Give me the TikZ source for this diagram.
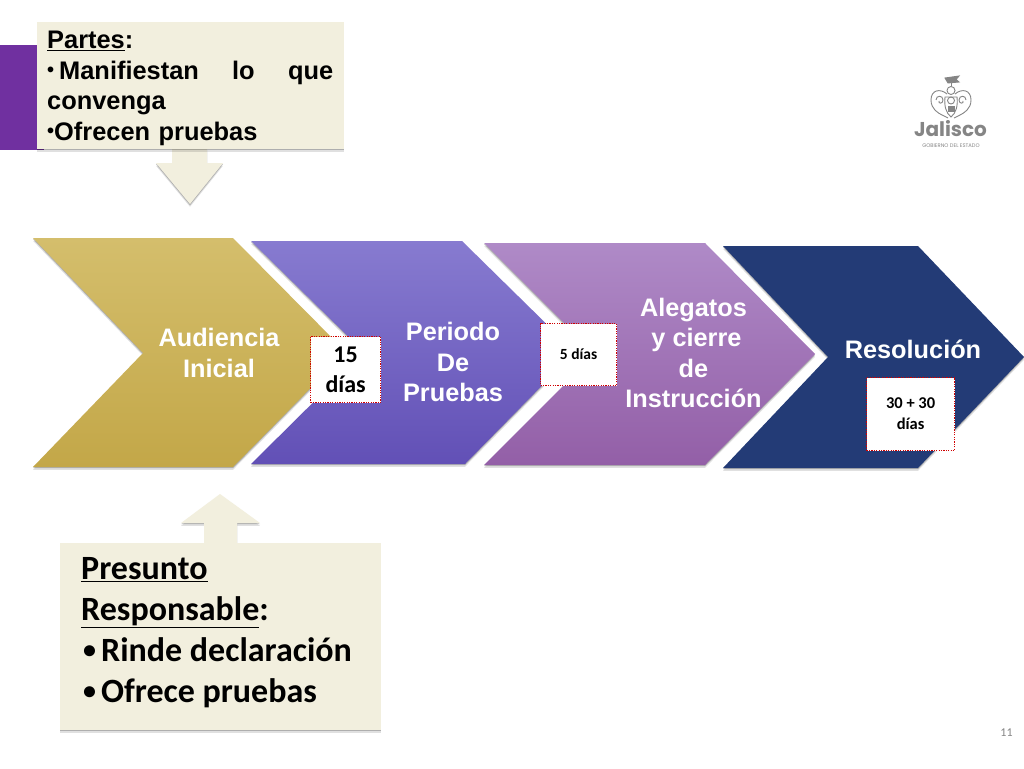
\documentclass[tikz,border=0pt]{standalone}
\usepackage{fontspec}
\setmainfont{Liberation Sans}
\newfontfamily\calfont{Carlito}
\newfontfamily\popfont{Poppins}
\definecolor{cream}{HTML}{F2EFDE}
\definecolor{barpurple}{HTML}{7030A0}
\definecolor{navy}{HTML}{233B76}
\definecolor{logogrey}{HTML}{858585}
\definecolor{dotred}{HTML}{D00000}
\definecolor{goldtop}{HTML}{D4BE6C}
\definecolor{goldbot}{HTML}{C3A748}
\definecolor{peritop}{HTML}{877BD0}
\definecolor{peribot}{HTML}{6250B6}
\definecolor{purptop}{HTML}{AF8AC7}
\definecolor{purpbot}{HTML}{935FA7}
\newcommand{\smallbul}[1]{\raisebox{.1em}{\fontsize{#1}{#1}\selectfont\textbullet}}
\tikzset{
  x=1pt,y=-1pt,
  softshadow/.style={fill=black,fill opacity=.22,shift={(0,1.2)}},
  softshadowb/.style={fill=black,fill opacity=.12,shift={(0,2.8)}},
  panel/.style={fill=cream},
  chevlabel/.style={text=white,font=\fontsize{25.3}{30.5}\selectfont\bfseries,align=center,inner sep=0pt},
  badge/.style={draw=dotred,dash pattern=on 1.2pt off 1.2pt,line width=1.2pt,fill=white,inner sep=0pt,anchor=north west,align=center,font=\calfont\bfseries,text=black},
  crest/.style={draw=logogrey,line width=.9pt,fill=none},
}
\def\chevA{(33,238)--(233,238)--(346,352)--(233,467)--(33,467)--(143,353)--cycle}
\def\chevB{(251,241)--(462,241)--(575,352)--(465,464)--(251,464)--(364,352)--cycle}
\def\chevC{(484,243)--(705,243)--(815,354)--(705,465)--(484,465)--(595,354)--cycle}
\def\chevD{(723,246)--(918,246)--(1024,357)--(918,468)--(723,468)--(828,357)--cycle}
\def\arrowDown{(172,149)--(207,149)--(207,163)--(223,163)--(190,204)--(156,163)--(172,163)--cycle}
\def\arrowUp{(204,543)--(204,523)--(181,523)--(220,494)--(260,523)--(237,523)--(237,543)--cycle}
\begin{document}
\begin{tikzpicture}
\useasboundingbox (0,0) rectangle (1024,768);
\fill[white] (0,0) rectangle (1024,768);
% side bar
\fill[barpurple] (0,45) rectangle (44,150);
% top panel and arrow
\path[softshadow] \arrowDown;
\path[softshadowb] \arrowDown;
\path[panel] \arrowDown;
\path[softshadow] (37,22) rectangle (344,149);
\path[softshadowb] (37,22) rectangle (344,149);
\path[panel] (37,22) rectangle (344,149);
\node[anchor=north west,inner sep=0pt,text width=286pt,align=left,font=\fontsize{25.4}{30.5}\selectfont\bfseries] (partes) at (47,27)
  {\strut\underline{Partes}:\\ \makebox[286pt][s]{\smallbul{20}\hspace{5pt}Manifiestan\hfil lo\hfil que}\\ convenga\\ \smallbul{20}Ofrecen pruebas};
% chevrons
\path[softshadow] \chevA;
\path[softshadowb] \chevA;
\path[top color=goldtop,bottom color=goldbot] \chevA;
\path[softshadow] \chevB;
\path[softshadowb] \chevB;
\path[top color=peritop,bottom color=peribot] \chevB;
\path[softshadow] \chevC;
\path[softshadowb] \chevC;
\path[top color=purptop,bottom color=purpbot] \chevC;
\path[softshadow] \chevD;
\path[softshadowb] \chevD;
\path[fill=navy] \chevD;
\node[chevlabel] (audiencia) at (219,353) {Audiencia\\Inicial};
\node[chevlabel] (periodo) at (453,362) {Periodo\\De\\Pruebas};
\node[chevlabel] (alegatos) at (693.5,353) {Alegatos\\\hspace{6pt}y cierre\\de\\Instrucción};
\node[chevlabel] (resolucion) at (913,349) {Resolución};
% badges
\node[badge,minimum width=70pt,minimum height=66pt,font=\calfont\bfseries\fontsize{24}{29.5}\selectfont] (b15) at (310,336) {15\\días};
\node[badge,minimum width=76pt,minimum height=62pt,font=\calfont\bfseries\fontsize{15.5}{20}\selectfont] (b5) at (540,323) {5 días};
\node[badge,minimum width=88pt,minimum height=73pt,font=\calfont\bfseries\fontsize{16.5}{21}\selectfont] (b30) at (866,377) {30 + 30\\días};
% bottom panel and arrow
\path[softshadow] \arrowUp;
\path[softshadowb] \arrowUp;
\path[panel] \arrowUp;
\path[softshadow] (60,543) rectangle (381,730);
\path[softshadowb] (60,543) rectangle (381,730);
\path[panel] (60,543) rectangle (381,730);
\node[anchor=north west,inner sep=0pt,align=left,font=\calfont\bfseries\fontsize{34}{41}\selectfont] (presunto) at (81,551)
  {\strut\underline{Presunto}\\\underline{Responsable}:\\\hspace{2pt}\smallbul{26}\hspace{5pt}Rinde declaración\\\hspace{2pt}\smallbul{26}\hspace{5pt}Ofrece pruebas};
% logo
\node[text=logogrey,inner sep=0pt,font=\popfont\bfseries\fontsize{20}{20}\selectfont] (jalisco) at (950.5,128.5) {Jalisco};
\node[text=logogrey,inner sep=0pt,font=\popfont\fontsize{5.2}{5.2}\selectfont] (gob) at (951,146) {GOBIERNO DEL ESTADO};
\draw[crest,fill=logogrey] (945,78)--(959,76)--(956,79.5)--(959,82)--(948,83)--cycle;
\draw[crest] (951,83)--(951,86);
\draw[crest] (951,90.5) circle (4);
\draw[crest] (947,94) .. controls (940,88) and (931,90) .. (931,100) .. controls (931,109) and (938,113) .. (942,115);
\draw[crest] (955,94) .. controls (962,88) and (971,90) .. (971,100) .. controls (971,109) and (964,113) .. (960,115);
\draw[crest] (936,100) .. controls (936,95) and (943,95) .. (943,100) .. controls (943,104) and (938,104) .. (939,101);
\draw[crest] (966,100) .. controls (966,95) and (959,95) .. (959,100) .. controls (959,104) and (964,104) .. (963,101);
\draw[crest] (945,97)--(957,97) .. controls (958,106) and (956,113) .. (951,117) .. controls (946,113) and (944,106) .. (945,97)--cycle;
\draw[crest] (951,100.5) circle (3.5);
\draw[crest] (942,115) -- (948,118) (960,115) -- (954,118);
\fill[logogrey] (947.5,106) rectangle (954.5,112);
% page number
\node[text=logogrey,inner sep=0pt,font=\calfont\fontsize{12}{12}\selectfont] (page) at (1006.5,733) {11};
\end{tikzpicture}
\end{document}
